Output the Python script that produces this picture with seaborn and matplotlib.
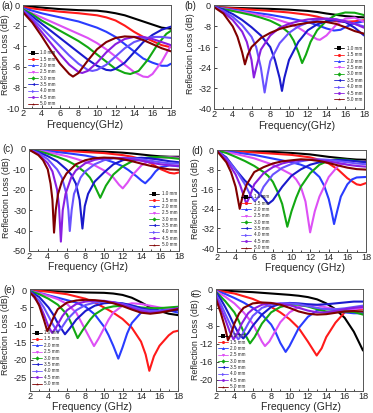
import pandas as pd
import seaborn as sns
import matplotlib
matplotlib.use("Agg")
from matplotlib import pyplot as plt
from matplotlib.lines import Line2D
from matplotlib.ticker import MultipleLocator

# layer thickness and per-curve styling (Origin-like)
thickness = ["1.0 mm", "1.5 mm", "2.0 mm", "2.5 mm", "3.0 mm", "3.5 mm", "4.0 mm", "4.5 mm", "5.0 mm"]
colors = ["#000000", "#ff1a1a", "#2a3cff", "#dd50f5", "#12a812", "#1a1acc", "#6a52ff", "#8a1ee0", "#800000"]
markers = ["s", "o", "^", "v", "D", "<", ">", "h", "*"]

# (a) frequency (GHz) / reflection loss (dB), one list per thickness
freq_a = [
    [2, 4, 6, 8, 10, 11, 12, 13, 14, 15, 16, 17, 18],
    [2, 4, 6, 8, 10, 11, 12, 13, 14, 15, 16, 17, 18],
    [2, 4, 6, 8, 10, 11, 12, 13, 14, 15, 16, 17, 17.6, 18],
    [2, 3, 4, 5, 6, 7, 8, 9, 10, 11, 12, 13, 14, 15, 15.5, 16, 17, 18],
    [2, 3, 4, 5, 6, 7, 8, 9, 10, 11, 12, 13, 13.6, 14.5, 15.5, 16.5, 17.5, 18],
    [2, 3, 4, 5, 6, 7, 8, 9, 10, 11, 11.5, 12, 13, 14, 15, 16, 17, 18],
    [2, 3, 4, 5, 6, 7, 8, 9, 9.5, 10, 11, 12, 13, 14, 15, 16, 17, 18],
    [2, 3, 4, 5, 6, 7, 8, 8.4, 9, 10, 11, 12, 13, 14, 15, 16, 17, 18],
    [2, 3, 4, 5, 6, 7, 7.4, 8, 9, 10, 11, 12, 13, 14, 15, 16, 17, 18],
]
loss_a = [
    [-0.1, -0.25, -0.4, -0.5, -0.55, -0.65, -0.8, -1.0, -1.3, -1.6, -1.9, -2.2, -2.3],
    [-0.2, -0.45, -0.65, -0.8, -1.0, -1.2, -1.5, -2.0, -2.6, -3.1, -3.5, -3.9, -4.1],
    [-0.3, -0.8, -1.2, -1.6, -2.2, -2.6, -3.1, -3.8, -4.5, -5.2, -5.6, -5.9, -5.9, -5.7],
    [-0.4, -0.8, -1.2, -1.6, -2.0, -2.4, -2.8, -3.2, -3.7, -4.3, -5.0, -5.8, -6.5, -6.95, -7.0, -6.7, -5.5, -3.9],
    [-0.4, -0.9, -1.5, -2.0, -2.5, -3.0, -3.5, -4.1, -4.8, -5.5, -6.2, -6.6, -6.7, -6.4, -5.3, -3.9, -2.8, -2.5],
    [-0.5, -1.1, -1.8, -2.5, -3.2, -3.9, -4.6, -5.3, -5.9, -6.3, -6.35, -6.2, -5.6, -4.6, -3.6, -2.9, -2.4, -2.1],
    [-0.5, -1.3, -2.2, -3.1, -4.0, -4.9, -5.7, -6.3, -6.4, -6.3, -5.8, -5.0, -4.2, -3.6, -3.3, -3.1, -3.1, -3.2],
    [-0.6, -1.5, -2.6, -3.7, -4.8, -5.8, -6.5, -6.6, -6.4, -5.6, -4.6, -3.8, -3.3, -3.1, -3.1, -3.3, -3.6, -3.9],
    [-0.7, -1.7, -3.0, -4.4, -5.7, -6.7, -6.95, -6.6, -5.4, -4.3, -3.6, -3.2, -3.05, -3.1, -3.4, -3.8, -4.2, -4.5],
]

# (b)
freq_b = [
    [2, 4, 6, 8, 10, 12, 13, 14, 15, 16, 17, 18],
    [2, 4, 6, 8, 10, 12, 13, 14, 15, 16, 17, 18],
    [2, 4, 6, 8, 10, 12, 13, 14, 14.8, 15.5, 16, 17, 18],
    [2, 4, 6, 8, 10, 11, 12, 13, 13.3, 14, 15, 16, 17, 18],
    [2, 3, 4, 5, 6, 7, 8, 9, 10, 10.5, 11, 11.4, 11.8, 12.3, 13, 14, 15, 16, 17, 18],
    [2, 3, 4, 5, 6, 7, 8, 8.5, 9, 9.25, 9.5, 10, 11, 12, 13, 14, 15, 16, 17, 18],
    [2, 3, 4, 5, 6, 6.5, 7, 7.4, 7.7, 8, 9, 10, 11, 12, 13, 14, 15, 16, 17, 18],
    [2, 3, 4, 5, 5.5, 6, 6.25, 6.5, 7, 8, 9, 10, 11, 12, 13, 14, 15, 16, 17, 18],
    [2, 3, 4, 4.5, 5, 5.3, 5.6, 6, 7, 8, 9, 10, 11, 12, 13, 14, 15, 16, 17, 18],
]
loss_b = [
    [-0.5, -0.8, -1.0, -1.2, -1.5, -2.0, -2.4, -3.0, -3.5, -4.0, -4.3, -4.5],
    [-0.5, -1.0, -1.5, -2.0, -2.6, -3.5, -4.2, -5.2, -6.0, -6.2, -6.0, -5.6],
    [-0.5, -1.5, -2.5, -3.5, -4.8, -6.3, -7.5, -8.8, -9.6, -9.3, -8.3, -6.8, -6.0],
    [-0.5, -1.8, -3.0, -4.5, -6.8, -8.5, -10.8, -13.0, -13.2, -11.5, -7.5, -5.0, -4.6, -6.2],
    [-0.5, -1.3, -2.0, -2.8, -3.6, -4.6, -5.8, -7.6, -10.5, -13.5, -18, -22.2, -19, -14, -9.5, -5.8, -3.5, -2.6, -2.7, -3.6],
    [-0.3, -1.5, -3.2, -5.5, -8.3, -11.5, -16, -21, -28, -33, -28, -21, -14, -9.5, -7.2, -6, -5.6, -6.3, -8.5, -11.5],
    [-0.3, -2, -4.3, -7.5, -12, -16, -24, -33.6, -27, -21.5, -14.5, -10.5, -8, -6.5, -5.5, -5, -5.2, -6, -7, -8],
    [-0.4, -2.5, -5.5, -10, -14, -21, -27.8, -24, -17, -11.5, -8.5, -7, -6, -5.3, -5, -5, -5.3, -6, -7, -8.5],
    [-0.5, -3, -8, -12, -18, -22.7, -19, -16, -12.5, -10.5, -9, -8, -7.2, -6.6, -6.2, -6.3, -7, -8.3, -9.8, -10.8],
]

# (c)
freq_c = [
    [2, 4, 6, 8, 10, 12, 13, 14, 15, 16, 17, 18],
    [2, 4, 6, 8, 10, 12, 13, 14, 15, 16, 17, 17.5, 18],
    [2, 4, 6, 8, 10, 11, 12, 12.6, 13.5, 14, 14.4, 15, 15.5, 16, 17, 18],
    [2, 4, 6, 7, 8, 9, 10, 11, 11.6, 12, 12.5, 13, 14, 15, 16, 17, 18],
    [2, 3, 4, 5, 6, 7, 8, 8.5, 9, 9.6, 10.2, 11, 12, 13, 14, 15, 16, 17, 18],
    [2, 3, 4, 5, 6, 6.5, 7, 7.4, 7.7, 7.95, 8.3, 9, 10, 11, 12, 13, 14, 15, 16, 17, 18],
    [2, 3, 4, 5, 5.5, 6, 6.2, 6.35, 6.55, 6.8, 7.5, 8, 9, 10, 11, 12, 13, 14, 15, 16, 17, 18],
    [2, 3, 4, 4.5, 5, 5.2, 5.4, 5.6, 5.9, 6.5, 7, 8, 9, 10, 11, 12, 13, 14, 15, 16, 17, 18],
    [2, 3, 3.5, 4, 4.3, 4.5, 4.67, 4.85, 5.1, 5.5, 6, 7, 8, 9, 10, 11, 12, 13, 14, 15, 16, 17, 18],
]
loss_c = [
    [0, -0.3, -0.6, -1, -1.3, -1.8, -2.2, -2.7, -3.2, -3.6, -3.8, -3.8],
    [-0.1, -0.5, -1, -1.5, -2, -3, -3.8, -5, -7, -9.8, -11.7, -12, -11.5],
    [-0.1, -1, -2, -3.2, -5, -6.5, -8.5, -10.3, -13.5, -15.5, -16.8, -14, -11, -9, -8, -8.5],
    [-0.2, -1.5, -3.5, -4.8, -6.3, -8, -10.5, -14, -17.5, -19.3, -16.5, -13, -8, -5.3, -4.2, -4, -4.3],
    [-0.2, -1, -2.3, -3.8, -5.5, -8, -11.5, -14, -18, -23.9, -18, -12.5, -8.5, -6, -4.6, -4, -4, -4.3, -4.8],
    [-0.2, -1.5, -3.5, -6, -10, -12.5, -17, -25, -39, -28, -22, -16, -11.5, -7.5, -5.5, -4.6, -4.3, -4.6, -5.3, -6, -6.5],
    [-0.2, -2, -5, -10, -14, -22, -30, -40.2, -30, -22, -14, -11, -7.5, -5.5, -4.6, -4.3, -4.5, -5, -5.8, -6.5, -7, -7.2],
    [-0.3, -2.5, -7, -11, -20, -28, -45.4, -30, -22, -14, -10.5, -7, -5.3, -4.5, -4.3, -4.5, -5, -5.8, -6.7, -7.5, -8, -8.3],
    [-0.3, -3, -5.5, -10, -17, -25, -41, -30, -22, -16, -12, -7.5, -5.5, -4.5, -4.2, -4.4, -5, -6, -7.2, -8.3, -9.3, -10, -10.2],
]

# (d)
freq_d = [
    [2, 4, 6, 8, 10, 12, 13, 14, 15, 16, 17, 18],
    [2, 4, 6, 8, 10, 12, 13, 14, 15, 16, 17, 17.4, 18],
    [2, 4, 6, 8, 10, 11, 12, 13, 13.5, 14, 14.3, 14.57, 14.9, 15.3, 16, 16.5, 17, 18],
    [2, 4, 6, 8, 9, 10, 10.5, 11, 11.5, 12, 12.5, 13, 14, 15, 16, 17, 18],
    [2, 3, 4, 5, 6, 7, 7.5, 8, 8.5, 9, 9.55, 10, 10.5, 11, 12, 13, 14, 15, 16, 17, 18],
    [2, 3, 4, 5, 6, 7, 7.5, 8, 9, 10, 11, 12, 13, 14, 15, 16, 17, 18],
    [2, 3, 4, 5, 5.6, 6.05, 6.5, 7, 8, 9, 10, 11, 12, 13, 14, 15, 16, 17, 18],
    [2, 3, 4, 4.5, 4.9, 5.15, 5.5, 6, 7, 8, 9, 10, 11, 12, 13, 14, 15, 16, 17, 18],
    [2, 3, 3.5, 4, 4.44, 4.8, 5.2, 6, 7, 8, 9, 10, 11, 12, 13, 14, 15, 16, 17, 18],
]
loss_d = [
    [0, -0.3, -0.5, -0.8, -1.2, -1.8, -2.3, -2.8, -3.2, -3.6, -3.9, -4.0],
    [0, -0.5, -1, -1.5, -2, -3, -4, -5.5, -8, -11.5, -14, -14.3, -13.5],
    [-0.1, -1, -2, -3.5, -5, -6, -7.5, -11, -14.5, -20, -25, -30.2, -25, -19, -14, -12, -11.2, -11],
    [-0.2, -1.6, -3.4, -6, -8, -10, -12, -15, -21, -33.6, -25, -19, -11, -6.5, -4.8, -4.5, -4.8],
    [-0.2, -1.2, -2.8, -4.5, -6.5, -9, -10.6, -13, -17, -22, -31.3, -25, -19.5, -15, -9.5, -6, -4.3, -3.8, -4, -4.5, -5],
    [-0.3, -3, -8, -12.5, -16, -19.5, -22, -20.5, -15, -10.5, -7.9, -6, -5, -4.3, -4, -4.2, -4.6, -5],
    [-0.3, -3.5, -8, -14, -18.5, -20.9, -19, -15, -10, -7.3, -5.7, -4.6, -4, -3.8, -4, -4.5, -5, -5.5, -5.8],
    [-0.3, -4, -10, -14.5, -19, -22, -19, -14, -9.5, -7, -5.5, -4.6, -4.1, -4, -4.2, -4.7, -5.3, -6, -6.5, -6.8],
    [-0.4, -5, -9, -15, -24, -18, -14, -9, -7, -5.5, -4.6, -4.2, -3.8, -4, -4.5, -5.3, -6.3, -7.2, -7.8, -8],
]

# (e)
freq_e = [
    [2, 4, 6, 8, 10, 11, 12, 13, 14, 15, 16, 17, 18],
    [2, 4, 6, 8, 9, 10, 11, 12, 13, 14, 14.5, 14.9, 15.4, 16, 16.5, 17, 17.5, 18],
    [2, 3, 4, 5, 6, 7, 8, 9, 10, 10.5, 11, 11.55, 12, 12.5, 13, 14, 15, 16, 17, 18],
    [2, 3, 4, 5, 6, 7, 7.5, 8, 8.5, 8.92, 9.4, 10, 10.5, 11, 12, 13, 14, 15, 16, 17, 18],
    [2, 3, 4, 5, 6, 6.5, 7.15, 7.7, 8.5, 9, 10, 11, 12, 13, 14, 15, 16, 17, 18],
    [2, 3, 4, 4.5, 5, 5.78, 6.3, 7, 8, 9, 10, 11, 12, 13, 14, 15, 16, 17, 18],
    [2, 3, 3.5, 4, 4.5, 5, 5.5, 6, 7, 8, 9, 10, 11, 12, 13, 14, 15, 16, 17, 18],
    [2, 3, 3.5, 4, 4.4, 4.8, 5.5, 6, 7, 8, 9, 10, 11, 12, 13, 14, 15, 16, 17, 18],
    [2, 2.5, 3, 3.5, 3.87, 4.2, 4.6, 5, 6, 7, 8, 9, 10, 11, 12, 13, 14, 15, 16, 17, 18],
]
loss_e = [
    [0, -0.3, -0.5, -0.7, -0.8, -1, -1.4, -2.2, -3.5, -5, -6, -6.8, -7.2],
    [0, -0.5, -1.2, -2.5, -3.6, -5, -6.5, -8.3, -10.8, -14.8, -18.5, -23.2, -19, -16, -14.5, -13, -12, -11.7],
    [-0.2, -0.8, -1.5, -2.2, -2.9, -3.6, -4.8, -7, -10.5, -13, -16, -19.7, -16.5, -12.5, -9.5, -6.5, -5.5, -5.3, -5.8, -6.5],
    [-0.3, -0.9, -1.7, -2.6, -4, -6.5, -9, -11.5, -14, -16.1, -14, -11, -8.5, -6.5, -4.5, -3.8, -4, -4.5, -5, -5.4, -5.5],
    [-0.3, -1.2, -2.5, -4.2, -7, -9.8, -13.8, -11.5, -8.5, -7, -5.3, -4.7, -4.5, -4.6, -5, -5.2, -5.2, -5, -4.8],
    [-0.4, -2, -5, -7, -9.5, -12.7, -11, -8.5, -6, -4.5, -3.8, -3.6, -3.8, -4.4, -5.2, -5.8, -6, -6, -5.8],
    [-0.5, -3, -5, -7.5, -10, -12.1, -10.5, -8.5, -5.8, -4.3, -3.6, -3.4, -3.5, -4, -4.8, -5.6, -6, -6, -5.7, -5.3],
    [-0.6, -4, -7, -10.5, -12.3, -10.8, -7.5, -5.8, -4, -3.3, -3.1, -3.1, -3.5, -4.2, -5.2, -6, -6.5, -6.3, -5.8, -5.2],
    [-0.7, -2, -4.5, -8.5, -11.8, -10, -7.5, -5.5, -3.6, -3, -2.8, -2.9, -3.2, -3.8, -4.6, -5.6, -6.5, -6.8, -6.5, -6, -5.5],
]

# (f)
freq_f = [
    [2, 4, 6, 8, 10, 11, 12, 13, 14, 15, 16, 17, 18],
    [2, 4, 6, 8, 9, 10, 11, 12, 12.96, 13.5, 14, 15, 16, 17, 18],
    [2, 3, 4, 5, 6, 7, 8, 8.5, 9, 9.58, 10, 10.5, 11, 12, 13, 14, 15, 16, 17, 18],
    [2, 3, 4, 5, 6, 6.5, 7, 7.33, 7.8, 8.5, 9, 10, 11, 12, 13, 14, 15, 16, 17, 18],
    [2, 3, 4, 4.5, 5, 5.7, 6.2, 7, 8, 9, 10, 11, 12, 13, 14, 15, 16, 17, 18],
    [2, 2.5, 3, 3.5, 4, 4.5, 4.97, 5.5, 6, 7, 8, 9, 10, 11, 12, 13, 14, 15, 16, 17, 18],
    [2, 2.5, 3, 3.5, 4, 4.43, 4.9, 5.5, 6, 7, 8, 9, 10, 11, 12, 13, 14, 15, 16, 17, 18],
    [2, 2.5, 3, 3.5, 3.9, 4.3, 4.8, 5.5, 6, 7, 8, 9, 10, 11, 12, 13, 14, 15, 16, 17, 18],
    [2, 2.5, 3, 3.3, 3.6, 4, 4.5, 5, 6, 7, 8, 9, 10, 11, 12, 13, 14, 15, 16, 17, 18],
]
loss_f = [
    [0, -0.3, -0.5, -0.8, -1.1, -1.3, -1.6, -2.1, -3, -4.3, -6.2, -9.3, -13.5],
    [-0.1, -0.8, -2, -3.8, -5, -6.5, -8.5, -11.5, -14.6, -13, -10.5, -7.3, -5, -4.3, -4.2],
    [-0.2, -0.9, -1.8, -2.8, -4, -5.5, -7.7, -9.5, -11.8, -13.8, -12.5, -10.5, -8.5, -6, -4.6, -4.2, -4.5, -5, -5.2, -5.2],
    [-0.3, -1.5, -3, -5, -7.5, -9.5, -11.5, -12.5, -11.5, -9, -7.2, -5, -3.8, -3.3, -3.4, -3.9, -4.3, -4.5, -4.3, -4],
    [-0.4, -2.5, -5, -7, -9.3, -11.9, -10.5, -7.5, -5, -3.8, -3.3, -3.3, -3.7, -4.3, -4.8, -4.9, -4.8, -4.9, -5.5],
    [-0.5, -2, -3.8, -5.8, -8, -9.8, -10.8, -9.6, -8, -5.5, -3.8, -3.1, -2.9, -3, -3.2, -3.3, -3.2, -3, -2.8, -2.6, -2.6],
    [-1, -3, -5.3, -7.5, -9.8, -11, -9.8, -7.5, -5.8, -4, -3.3, -3, -3, -3.2, -3.6, -4, -4.3, -4.3, -4.1, -3.8, -3.5],
    [-1.5, -4, -6.5, -9.3, -11, -9.8, -7.5, -5.2, -4.3, -3.3, -3, -3.1, -3.4, -4, -4.6, -5, -5, -4.7, -4.3, -4, -3.8],
    [-2, -5, -8.5, -11.2, -10, -7.5, -5.3, -4, -3, -2.8, -2.9, -3.3, -4, -4.8, -5.3, -5.5, -5.4, -5.1, -4.8, -4.7, -4.8],
]

yticks_a = [0, -2, -4, -6, -8, -10]
yticks_b = [0, -8, -16, -24, -32, -40]
yticks_c = [0, -10, -20, -30, -40, -50]
yticks_d = [0, -8, -16, -24, -32, -40]
yticks_e = [0, -5, -10, -15, -20, -25]
yticks_f = [0, -4, -8, -12, -16, -20]


def long_table(freqs, losses):
    rows = []
    for t, fs, ls in zip(thickness, freqs, losses):
        for f, l in zip(fs, ls):
            rows.append((t, f, l))
    return pd.DataFrame(rows, columns=["thickness", "freq", "loss"])


sns.set_style("ticks")
plt.rcParams["font.family"] = ["Liberation Sans", "DejaVu Sans"]
plt.rcParams["axes.unicode_minus"] = False

W, H = 373, 413
fig = plt.figure(figsize=(W / 100, H / 100), dpi=100)

# rect in pixels (left, top, right, bottom); tag / label spots in axes fractions
# ylabel x is its right edge, xlabel y is its top edge
panels = [
    ("(a)", (23, 5, 171, 108), freq_a, loss_a, yticks_a, (-10, 0), "Frequency(GHz)",
     ("lower left", (0.02, 0.0)), (-0.145, 0.99), 0, (-0.088, 0.515), (0.42, -0.117)),
    ("(b)", (214, 5, 364, 109), freq_b, loss_b, yticks_b, (-40, 0.3), "Frequency(GHz)",
     ("lower right", (1.0, 0.05)), (-0.195, 0.99), 0, (-0.13, 0.53), (0.55, -0.115)),
    ("(c)", (29, 149, 179, 251), freq_c, loss_c, yticks_c, (-50, 0), "Frequency (GHz)",
     ("lower right", (1.0, 0.02)), (-0.175, 1.0), 0, (-0.123, 0.52), (0.39, -0.108)),
    ("(d)", (217, 150, 366, 252), freq_d, loss_d, yticks_d, (-41.6, 0), "Frequency (GHz)",
     ("lower left", (0.15, 0.0)), (-0.17, 0.99), 0, (-0.117, 0.52), (0.59, -0.108)),
    ("(e)", (30, 289, 178, 391), freq_e, loss_e, yticks_e, (-29, 0.3), "Frequency (GHz)",
     ("lower left", (0.0, 0.03)), (-0.18, 0.99), 0, (-0.132, 0.55), (0.42, -0.108)),
    ("(f)", (216, 289, 363, 391), freq_f, loss_f, yticks_f, (-22.5, 0.2), "Frequency (GHz)",
     ("lower left", (0.0, 0.0)), (-0.165, 0.97), 90, (-0.112, 0.5), (0.58, -0.108)),
]

palette = dict(zip(thickness, colors))

for tag, (l, t, r, b), freqs, losses, yt, ylim, xlab, (loc, anchor), tagpos, rot, ylpos, xlpos in panels:
    ax = fig.add_axes([l / W, 1 - b / H, (r - l) / W, (b - t) / H])
    df = long_table(freqs, losses)
    sns.lineplot(data=df, x="freq", y="loss", hue="thickness", hue_order=thickness,
                 palette=palette, estimator=None, sort=False, legend=False,
                 linewidth=1.5, ax=ax)
    ax.set_xlim(2, 18)
    ax.set_ylim(*ylim)
    ax.set_xticks(range(2, 19, 2))
    ax.xaxis.set_minor_locator(MultipleLocator(1))
    ax.set_yticks(yt)
    ax.tick_params(which="both", direction="in", labelsize=6.6, width=0.6)
    ax.tick_params(axis="x", pad=0.7)
    ax.tick_params(axis="y", pad=2.0)
    ax.tick_params(which="major", length=2.5)
    ax.tick_params(which="minor", length=1.3)
    for s in ax.spines.values():
        s.set_visible(True)
        s.set_linewidth(0.7)
        s.set_color("#555555")
    ax.set_xlabel(xlab, fontsize=7.5)
    ax.set_ylabel("Reflection Loss (dB)", fontsize=6.4)
    ax.yaxis.set_label_coords(*ylpos)
    ax.xaxis.set_label_coords(*xlpos)
    ax.text(tagpos[0], tagpos[1], tag, transform=ax.transAxes, fontsize=7,
            rotation=rot, ha="left", va="center")

    handles = [Line2D([0], [0], color=c, marker=m, markersize=2.2, lw=0.6, markeredgewidth=0)
               for c, m in zip(colors, markers)]
    ax.legend(handles, thickness, loc=loc, bbox_to_anchor=anchor, frameon=False,
              fontsize=3.3, handlelength=2.2, handletextpad=0.5, labelspacing=0.3,
              borderpad=0.2, borderaxespad=0.2)

fig.savefig("out.png", dpi=100)
